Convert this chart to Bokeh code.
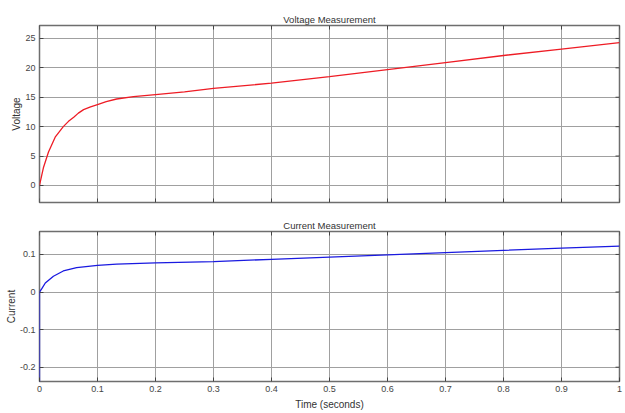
import math
from bokeh.plotting import figure
from bokeh.layouts import column
from bokeh.models import FixedTicker, Range1d
from bokeh.embed import file_html
from bokeh.resources import INLINE

# ---- data ----
volt_t = [0, 0.004, 0.007, 0.0155, 0.027, 0.041, 0.05, 0.059, 0.067, 0.076, 0.088, 0.1,
          0.115, 0.133, 0.162, 0.2, 0.25, 0.3, 0.4, 0.5, 0.6, 0.7, 0.8, 0.9, 1.0]
volt_v = [0, 1.8, 3.1, 5.7, 8.2, 10.0, 10.9, 11.6, 12.3, 12.9, 13.35, 13.75,
          14.25, 14.7, 15.1, 15.45, 15.9, 16.5, 17.4, 18.5, 19.7, 20.9, 22.1, 23.2, 24.3]

curr_t = [0, 0, 0.004, 0.01, 0.024, 0.041, 0.064, 0.1, 0.133, 0.2, 0.3,
          0.4, 0.5, 0.6, 0.7, 0.8, 0.9, 1.0]
curr_i = [-0.26, 0, 0.009, 0.024, 0.042, 0.056, 0.065, 0.071, 0.074, 0.0775, 0.081,
          0.087, 0.093, 0.099, 0.105, 0.111, 0.117, 0.122]

x_range = (0, 1)
x_ticks = [0, 0.1, 0.2, 0.3, 0.4, 0.5, 0.6, 0.7, 0.8, 0.9, 1.0]
x_tick_labels = ["0", "0.1", "0.2", "0.3", "0.4", "0.5", "0.6", "0.7", "0.8", "0.9", "1"]
v_range = (-2.9, 27.2)
v_ticks = [0, 5, 10, 15, 20, 25]
v_tick_labels = ["0", "5", "10", "15", "20", "25"]
i_range = (-0.238, 0.161)
i_ticks = [-0.2, -0.1, 0, 0.1]
i_tick_labels = ["-0.2", "-0.1", "0", "0.1"]

FONT = "Liberation Sans"
GRID = "#a0a0a0"
FRAME = "#6e6e6e"
TICK = "#444444"
TXT = "#333333"


def style_axis(ax, ticks, labels):
    ax.ticker = FixedTicker(ticks=ticks)
    ax.major_label_overrides = {t: l for t, l in zip(ticks, labels)}
    ax.major_tick_in = 4
    ax.major_tick_out = 0
    ax.minor_tick_line_color = None
    ax.major_tick_line_color = TICK
    ax.axis_line_color = None
    ax.major_label_text_font = FONT
    ax.major_label_text_color = "#444444"
    ax.major_label_text_font_size = "9px"
    ax.major_label_standoff = 4
    ax.axis_label_text_font = FONT
    ax.axis_label_text_font_size = "10px"
    ax.axis_label_text_font_style = "normal"
    ax.axis_label_text_color = TXT


def make_fig(title, h, top, bottom, yr, yticks, ylabels, ylabel, show_x):
    p = figure(width=624, height=h, output_backend="svg", toolbar_location=None,
               x_range=Range1d(*x_range), y_range=Range1d(*yr),
               min_border_left=39, min_border_right=5,
               min_border_top=top, min_border_bottom=bottom,
               title=title)
    p.title.align = "center"
    p.title.text_font = FONT
    p.title.text_font_size = "9.5px"
    p.title.text_font_style = "normal"
    p.title.text_color = TXT
    p.title.standoff = 2
    p.outline_line_color = FRAME
    p.outline_line_width = 1.5
    p.background_fill_color = "white"
    p.border_fill_color = "white"

    style_axis(p.xaxis[0], x_ticks, x_tick_labels)
    if show_x:
        p.xaxis.axis_label = "Time (seconds)"
        p.xaxis.axis_label_standoff = 4
    else:
        p.xaxis.visible = False
    style_axis(p.yaxis[0], yticks, ylabels)
    p.yaxis.axis_label = ylabel
    p.yaxis.axis_label_standoff = 0

    p.xgrid.ticker = FixedTicker(ticks=x_ticks)
    p.ygrid.ticker = FixedTicker(ticks=yticks)
    p.xgrid.grid_line_color = GRID
    p.ygrid.grid_line_color = GRID

    # inward tick marks on the other frame edges (half of each dash is clipped by the frame)
    p.scatter(x_ticks, [yr[1]] * len(x_ticks), marker="dash", size=8,
              angle=math.pi / 2, line_color=TICK, line_width=1)
    p.scatter([x_range[1]] * len(yticks), yticks, marker="dash", size=8,
              line_color=TICK, line_width=1)
    if not show_x:
        p.scatter(x_ticks, [yr[0]] * len(x_ticks), marker="dash", size=8,
                  angle=math.pi / 2, line_color=TICK, line_width=1)
    return p


p1 = make_fig("Voltage Measurement", 206, 25, 4, v_range,
              v_ticks, v_tick_labels, "Voltage", False)
p1.line(volt_t, volt_v, line_color="#ee1c25", line_width=1.3)

p2 = make_fig("Current Measurement", 206, 25, 31, i_range,
              i_ticks, i_tick_labels, "Current", True)
p2.line(curr_t, curr_i, line_color="#1a1ae0", line_width=1.3)

layout = column(p1, p2, spacing=0)
open("out.html", "w").write(file_html(layout, INLINE))
